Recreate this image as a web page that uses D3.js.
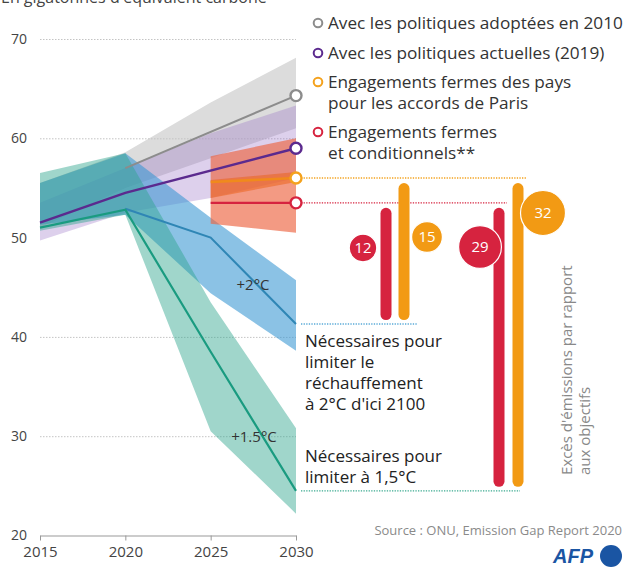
<!DOCTYPE html>
<html><head><meta charset="utf-8">
<script src="https://cdn.jsdelivr.net/npm/d3@7"></script>
<style>
html,body{margin:0;padding:0;background:#fff;}
svg{display:block;font-family:"Open Sans","Noto Sans",sans-serif;}
</style></head>
<body>
<svg id="c" width="633" height="567"></svg>
<script>
// ---------- data ----------
const xTicks = [2015, 2020, 2025, 2030];
const yTicks = [20, 30, 40, 50, 60, 70];
const gridValues = [30, 40, 60, 70];

// bands: [year, low, high]
const band2010 = [[2015, 51, 55.5], [2020, 55, 58.6], [2025, 58, 63.6], [2030, 61, 68.1]];
const bandCurrent = [[2015, 49.7, 53.5], [2020, 52.5, 57], [2025, 54, 60.5], [2030, 56, 63.3]];
const bandConditional = [[2025, 51.4, 58.2], [2030, 50.5, 60]];
const bandUnconditional = [[2025, 54, 55.8], [2030, 55.6, 56.6]];
const band2C = [[2015, 51.3, 55.5], [2020, 52.3, 58.5], [2025, 44.4, 52], [2030, 38.6, 45.7]];
const band15C = [[2015, 50.7, 56.5], [2020, 52.3, 58.5], [2025, 30.5, 43.5], [2030, 22.2, 30.8]];

// central lines: [year, value]
const line2010 = [[2020, 57], [2030, 64.3]];
const lineCurrent = [[2015, 51.5], [2020, 54.5], [2030, 59]];
const lineUnconditional = [[2025, 55.6], [2030, 56]];
const lineConditional = [[2025, 53.5], [2030, 53.5]];
const line2C = [[2020, 52.9], [2025, 50], [2030, 41.3]];
const line15C = [[2015, 51], [2020, 52.8], [2025, 38.5], [2030, 24.5]];

// gap values (Gt)
const gapValues = [12, 15, 29, 32];

const legendLabels = [
  ["Avec les politiques adoptées en 2010"],
  ["Avec les politiques actuelles (2019)"],
  ["Engagements fermes des pays", "pour les accords de Paris"],
  ["Engagements fermes", "et conditionnels**"]
];

// ---------- chart ----------
const svg = d3.select("#c");
const x = d3.scaleLinear().domain([2015, 2030]).range([40, 296]);
const y = d3.scaleLinear().domain([20, 70]).range([535.5, 39]);

const C = {grey:"#8c8c8c", purple:"#5b2a8e", orange:"#f4a21d", red:"#d6233f",
           blue:"#2f86b5", green:"#1a9b80"};

// subtitle (cut at top)
svg.append("text").attr("x", 1).attr("y", 3).attr("font-size", 16).attr("fill", "#444")
  .text("En gigatonnes d'équivalent carbone");

const area = d3.area().x(d => x(d[0])).y0(d => y(d[1])).y1(d => y(d[2]));
const line = d3.line().x(d => x(d[0])).y(d => y(d[1]));

svg.append("path").attr("d", area(band2010)).attr("fill", "#dcdcdc");

// grid
const grid = svg.append("g").attr("transform", "translate(40,0)")
  .call(d3.axisLeft(y).tickValues(gridValues).tickSize(-256).tickFormat(""));
grid.select(".domain").remove();
grid.selectAll("line").attr("stroke", "#c4c4c4").attr("stroke-dasharray", "1.5,1.5");

svg.append("path").attr("d", area(bandCurrent)).attr("fill", "rgba(150,110,195,0.32)");
svg.append("path").attr("d", area(band2C)).attr("fill", "rgba(55,150,210,0.58)");
svg.append("path").attr("d", area(band15C)).attr("fill", "rgba(45,165,140,0.45)");
svg.append("path").attr("d", area(bandConditional)).attr("fill", "rgba(236,100,65,0.65)");
svg.append("path").attr("d", area(bandUnconditional)).attr("fill", "rgba(235,95,20,0.5)");

// y labels
const ya = svg.append("g").attr("transform", "translate(27,0)")
  .call(d3.axisLeft(y).tickValues(yTicks).tickSize(0).tickPadding(0));
ya.select(".domain").remove();
ya.selectAll("text").attr("font-size", 14).attr("fill", "#444")
  .attr("font-family", "'Open Sans',sans-serif");

// x axis
const xa = svg.append("g").attr("transform", `translate(0,${y(20)})`)
  .call(d3.axisBottom(x).tickValues(xTicks).tickFormat(d3.format("d")).tickSize(5).tickPadding(6).tickSizeOuter(0));
xa.select(".domain").attr("stroke", "#999");
xa.selectAll("line").attr("stroke", "#999");
xa.selectAll("text").attr("font-size", 15).attr("fill", "#444")
  .attr("font-family", "'Open Sans',sans-serif");

// lines
const lines = [[line2010, C.grey, 2], [line2C, C.blue, 2], [line15C, C.green, 2.2],
               [lineCurrent, C.purple, 2.4], [lineUnconditional, "#f08a1c", 2.6], [lineConditional, C.red, 2.4]];
lines.forEach(([d, c, w]) => svg.append("path").attr("d", line(d)).attr("fill", "none")
  .attr("stroke", c).attr("stroke-width", w));

// dotted connectors
const last = a => a[a.length - 1][1];
const conns = [[last(lineUnconditional), C.orange, 527], [last(lineConditional), C.red, 507],
               [last(line2C), "#5aaad8", 417], [last(line15C), "#3aaa90", 520]];
conns.forEach(([v, c, x2]) => svg.append("line").attr("x1", 301).attr("x2", x2)
  .attr("y1", y(v)).attr("y2", y(v)).attr("stroke", c).attr("stroke-width", 1.3)
  .attr("stroke-dasharray", "1.3,1.3"));

// end circles
[[line2010, C.grey], [lineCurrent, C.purple], [lineUnconditional, C.orange], [lineConditional, C.red]]
  .forEach(([d, c]) => svg.append("circle").attr("cx", x(2030)).attr("cy", y(last(d)))
    .attr("r", 5.5).attr("fill", "#fff").attr("stroke", c).attr("stroke-width", 2.4));

// gap bars
const bars = [
  [last(lineConditional), last(line2C), C.red, 386],
  [last(lineUnconditional), last(line2C), "#f29a14", 404],
  [last(lineConditional), last(line15C), C.red, 499],
  [last(lineUnconditional), last(line15C), "#f29a14", 518]
];
bars.forEach(([a, b, c, cx]) => {
  const y1 = y(a) + 5, y2 = y(b) - 4;
  svg.append("rect").attr("x", cx - 5.5).attr("width", 11).attr("y", y1).attr("height", y2 - y1)
    .attr("rx", 5.5).attr("fill", c);
});

// gap bubbles
const r = d3.scaleSqrt().domain([0, 32]).range([0, 22.5]);
const bubblePos = [[363, 248, C.red], [427, 237, "#f29a14"], [480, 247, C.red], [543, 213, "#f29a14"]];
gapValues.forEach((v, i) => {
  const [cx, cy, c] = bubblePos[i];
  svg.append("circle").attr("cx", cx).attr("cy", cy).attr("r", r(v)).attr("fill", c)
    .attr("stroke", "#fff").attr("stroke-width", 1.2);
  svg.append("text").attr("x", cx).attr("y", cy).attr("dy", "0.36em").attr("text-anchor", "middle")
    .attr("font-size", 15).attr("fill", "#fff").text(v);
});

// band labels
svg.append("text").attr("x", 253).attr("y", 285).attr("dy", "0.36em").attr("text-anchor", "middle")
  .attr("font-size", 15).attr("fill", "#333").text("+2°C");
svg.append("text").attr("x", 254).attr("y", 437).attr("dy", "0.36em").attr("text-anchor", "middle")
  .attr("font-size", 15).attr("fill", "#333").text("+1.5°C");

// annotations
function multiline(lines, x0, y0, lh, size, fill) {
  const t = svg.append("text").attr("x", x0).attr("y", y0).attr("font-size", size).attr("fill", fill);
  lines.forEach((l, i) => t.append("tspan").attr("x", x0).attr("y", y0 + i * lh).text(l));
  return t;
}
multiline(["Nécessaires pour", "limiter le", "réchauffement", "à 2°C d'ici 2100"], 305, 347, 21, 17, "#222");
multiline(["Nécessaires pour", "limiter à 1,5°C"], 305, 462, 21, 17, "#222");

// legend
const legRows = [29, 59, 88, 138];
legendLabels.forEach((ls, i) => {
  const cols = [C.grey, C.purple, C.orange, C.red];
  svg.append("circle").attr("cx", 318).attr("cy", legRows[i] - 6).attr("r", 4.3)
    .attr("fill", "#fff").attr("stroke", cols[i]).attr("stroke-width", 2);
  multiline(ls, 328, legRows[i], 21, 17.2, "#333");
});

// vertical note
const vt = svg.append("text").attr("transform", "translate(572,475) rotate(-90)")
  .attr("font-size", 15).attr("fill", "#888");
vt.append("tspan").attr("x", 0).attr("y", 0).text("Excès d'émissions par rapport");
vt.append("tspan").attr("x", 0).attr("y", 18).text("aux objectifs");

// source
svg.append("text").attr("x", 622).attr("y", 535).attr("text-anchor", "end")
  .attr("font-size", 13).attr("fill", "#8a8a8a").text("Source : ONU, Emission Gap Report 2020");

// AFP logo
svg.append("text").attr("x", 553).attr("y", 563).attr("font-size", 20).attr("font-weight", "bold")
  .attr("font-style", "italic").attr("fill", "#1a55a3").attr("font-family", "'Liberation Sans',sans-serif")
  .text("AFP");
svg.append("circle").attr("cx", 611).attr("cy", 556).attr("r", 11).attr("fill", "#1a55a3");
</script>
</body></html>
